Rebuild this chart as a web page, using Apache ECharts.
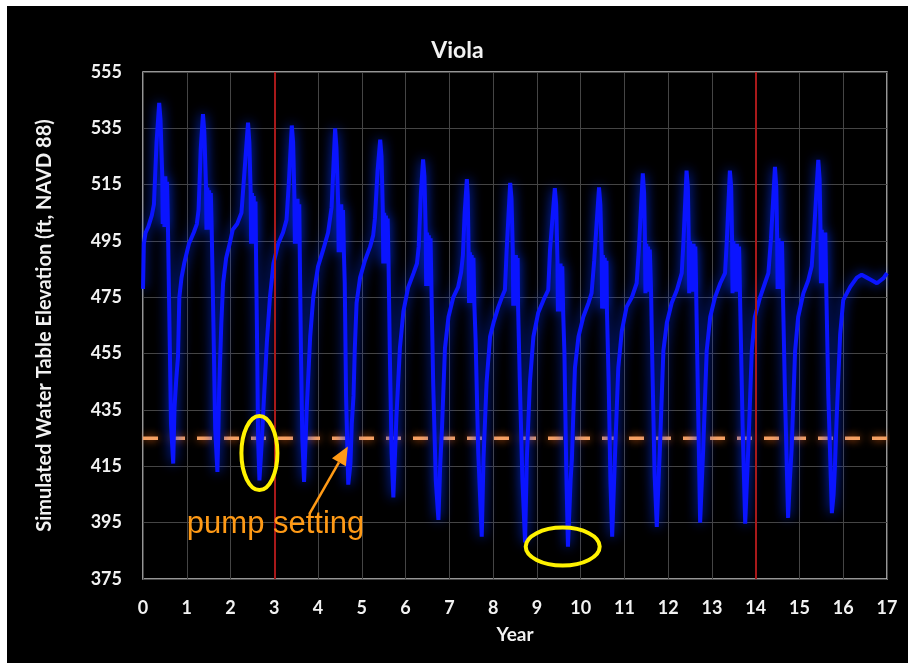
<!DOCTYPE html>
<html>
<head>
<meta charset="utf-8">
<script src="https://cdn.jsdelivr.net/npm/echarts@6/dist/echarts.min.js"></script>
<style>
html,body{margin:0;padding:0;background:#ffffff;width:908px;height:663px;overflow:hidden;}
#chart{position:absolute;left:7px;top:6px;width:901px;height:657px;background:#000;}
</style>
</head>
<body>
<div id="chart"></div>
<script>
// ---- Data ----
const chartTitle = 'Viola';
const xAxisTitle = 'Year';
const yAxisTitle = 'Simulated Water Table Elevation (ft, NAVD 88)';
const yearTicks = [0,1,2,3,4,5,6,7,8,9,10,11,12,13,14,15,16,17];
const elevationTicks = [375,395,415,435,455,475,495,515,535,555];
const pumpSetting = 425;
const redLineYears = [3, 14];
const annotationText = 'pump setting';

// simulated water table: time (years) and elevation (ft)
const years = [
 0.00,0.02,0.06,0.12,0.20,0.25,0.31,0.37,0.40,0.44,0.45,0.47,0.49,0.51,0.53,0.55,0.57,0.60,0.64,0.69,
 0.72,0.76,0.80,0.83,0.88,0.94,1.05,1.16,1.23,1.27,
 1.32,1.37,1.40,1.44,1.45,1.47,1.49,1.51,1.53,1.55,1.57,1.61,1.65,1.70,
 1.72,1.74,1.79,1.83,1.90,1.98,2.05,2.15,2.25,
 2.33,2.40,2.43,2.46,2.47,2.49,2.51,2.53,2.55,2.57,2.58,2.61,2.63,2.66,
 2.70,2.75,2.83,2.90,2.98,3.09,3.20,3.28,
 3.33,3.40,3.43,3.46,3.47,3.49,3.51,3.53,3.55,3.57,3.58,3.61,3.64,3.68,
 3.71,3.74,3.82,3.89,4.00,4.12,4.23,4.31,
 4.39,4.42,4.46,4.47,4.49,4.51,4.53,4.55,4.57,4.59,4.61,4.64,4.69,
 4.74,4.77,4.81,4.84,4.88,4.96,5.07,5.19,5.26,5.30,
 5.36,5.42,5.45,5.48,5.49,5.51,5.53,5.55,5.57,5.59,5.61,5.64,5.68,5.72,
 5.76,5.79,5.87,5.95,6.06,6.18,6.26,6.30,
 6.35,6.40,6.43,6.46,6.47,6.49,6.51,6.53,6.55,6.57,6.59,6.63,6.69,6.75,
 6.79,6.83,6.90,6.98,7.09,7.20,7.27,7.31,
 7.35,7.40,7.42,7.44,7.45,7.47,7.49,7.51,7.53,7.55,7.57,7.60,7.66,7.74,
 7.78,7.85,7.93,8.01,8.12,8.20,8.27,8.31,
 8.39,8.42,8.45,8.46,8.48,8.50,8.52,8.54,8.56,8.57,8.61,8.67,8.73,
 8.77,8.84,8.92,9.03,9.15,9.26,9.30,
 9.41,9.44,9.47,9.48,9.50,9.52,9.54,9.56,9.58,9.60,9.63,9.67,9.71,
 9.77,9.80,9.83,9.87,9.95,10.06,10.18,10.25,10.31,
 10.42,10.45,10.48,10.49,10.51,10.53,10.55,10.57,10.59,10.60,10.64,10.68,10.72,
 10.76,10.79,10.86,10.94,11.05,11.17,11.28,11.33,
 11.42,11.45,11.47,11.48,11.50,11.52,11.54,11.56,11.58,11.61,11.64,11.69,11.74,
 11.78,11.81,11.89,11.97,12.08,12.20,12.31,12.35,
 12.42,12.45,12.47,12.48,12.50,12.52,12.54,12.56,12.58,12.60,12.62,12.64,12.68,12.73,
 12.77,12.80,12.88,12.96,13.07,13.19,13.30,13.34,
 13.41,13.44,13.46,13.47,13.49,13.51,13.53,13.55,13.57,13.59,13.62,13.64,13.70,13.76,
 13.80,13.83,13.91,13.98,14.10,14.21,14.29,14.35,
 14.44,14.47,14.49,14.50,14.52,14.54,14.56,14.58,14.60,14.62,14.67,14.74,
 14.78,14.82,14.90,14.97,15.09,15.20,15.28,15.34,
 15.43,15.46,15.48,15.49,15.51,15.53,15.55,15.57,15.59,15.61,15.66,15.74,
 15.78,15.81,15.85,15.93,16.00,16.16,16.31,16.42,16.54,16.66,16.77,16.92,17.00
];
const elevation = [
 478,494,498,500,504,508,530,544,538,518,501,517,500,518,502,516,500,470,430,416,
 436,446,454,475,482,487,494,498,501,506,
 528,540,534,514,499,514,499,513,500,512,499,465,428,413,
 426,442,466,480,489,494,499,501,505,
 522,537,530,512,494,512,495,511,494,509,494,455,425,410,
 420,435,459,475,487,494,498,502.5,
 515,536,530,510,494,510,495,510,494,508,494,455,425,409.5,
 422,435,461,475,486,492,498,507,
 535,528,508,491,508,491,508,492,506,491,480,440,408.5,
 416,430,440,457,473,482,488,493,497,503,
 520,531,525,505,487,505,488,504,487,503,488,455,420,404,
 420,432.5,457,470,478.6,483.5,487,493,
 512,524,518,498,479,498,479,497,480,496,479,445,410,396,
 415,428,457,468,475,478.6,484,490,
 505,517,511,491,473,491,473,490,474,489,473,460,420,390,
 417.6,444.6,461,466,471.6,475,477.6,491.8,
 515.6,510,491,472,490,472,490,473,489,472,445,410,388,
 417.6,444.6,461,469.5,474,477.6,491.8,
 513.8,508,488,470,487,470,487,471,486,470,455,415,386.5,
 410,417.6,432.5,450,461,468,473,476.5,488,
 514,508,490,471,490,471,489,472,488,471,445,410,390,
 408,421,450,463,471.6,475,480,492,
 519,512,494,476.5,494,477,493,477,492,476.5,450,412,393.5,
 410,421,456,466,473,477.6,483.6,495,
 520,514,495,476.5,495,477,494,477,494,477,493,476.5,440,395,
 410,421,456,468,475,480,483.6,495,
 520,514,495,476.5,495,477,494,477,494,477,493,476.5,430,394.6,
 410,421,456,468,475,480,483.6,496,
 521.3,514,496,478,496,478,495,478,495,478,440,396.7,
 410,421,456,468,476.5,481,486,500,
 523.8,517,499,480,499,480,498,481,498,480,440,398.4,
 405,415,432.5,462,474,478.7,482,483,482,481,480,481.8,483.6
];

// annotation anchors (data coordinates: year, elevation)
const ellipseCenters = [[2.66, 419.7], [9.59, 386.5]];
const arrowTip = [4.68, 422];
const arrowTail = [3.80, 398.0];
const textAnchor = [3.03, 394.2];

const waterSeries = years.map((t, i) => [t, elevation[i]]);
const xMin = yearTicks[0], xMax = yearTicks[yearTicks.length - 1];
const yMin = elevationTicks[0], yMax = elevationTicks[elevationTicks.length - 1];

const chart = echarts.init(document.getElementById('chart'), null, {renderer: 'canvas'});
const FONT = 'Lato';

chart.setOption({
  animation: false,
  backgroundColor: '#000000',
  title: {
    text: chartTitle, left: 'center', top: 28,
    textStyle: {color: '#f2f2f2', fontFamily: FONT, fontWeight: 'bold', fontSize: 23}
  },
  grid: {
    left: 136, top: 66, right: 21, bottom: 84,
    show: true, borderColor: '#c8c8c8', borderWidth: 1.5, backgroundColor: 'transparent'
  },
  xAxis: {
    type: 'value', min: xMin, max: xMax, interval: 1,
    name: xAxisTitle, nameLocation: 'middle', nameGap: 46,
    nameTextStyle: {color: '#f2f2f2', fontFamily: FONT, fontWeight: 'bold', fontSize: 19},
    axisLine: {show: false}, axisTick: {show: false},
    axisLabel: {color: '#f2f2f2', fontFamily: FONT, fontWeight: 'bold', fontSize: 18, margin: 20},
    splitLine: {show: true, lineStyle: {color: '#454545', width: 1}}
  },
  yAxis: {
    type: 'value', min: yMin, max: yMax, interval: 20,
    name: yAxisTitle, nameLocation: 'middle', nameGap: 88,
    nameTextStyle: {color: '#f2f2f2', fontFamily: FONT, fontWeight: 'bold', fontSize: 20},
    axisLine: {show: false}, axisTick: {show: false},
    axisLabel: {color: '#f2f2f2', fontFamily: FONT, fontWeight: 'bold', fontSize: 18, margin: 21},
    splitLine: {show: true, lineStyle: {color: '#454545', width: 1}}
  },
  series: [
    {
      name: 'red markers', type: 'line', data: [], silent: true,
      markLine: {
        symbol: ['none', 'none'], silent: true, label: {show: false},
        lineStyle: {color: '#a8191a', width: 2, type: 'solid'},
        data: redLineYears.map(x => ({xAxis: x}))
      }
    },
    {
      name: 'pump setting', type: 'line', silent: true, symbol: 'none',
      data: [[xMin, pumpSetting], [xMax, pumpSetting]],
      lineStyle: {color: '#f5a062', width: 3.5, type: [15, 12],
        shadowBlur: 8, shadowColor: 'rgba(255,110,20,0.85)'},
      z: 3
    },
    {
      name: 'Viola', type: 'line', symbol: 'none', smooth: false,
      data: waterSeries,
      lineStyle: {color: '#0a14ff', width: 4, shadowBlur: 12, shadowColor: 'rgba(0,50,255,0.9)'},
      z: 4
    }
  ]
});

function px(p) { return chart.convertToPixel({gridIndex: 0}, p); }
const tip = px(arrowTip), tail = px(arrowTail);
const ang = Math.atan2(tip[1] - tail[1], tip[0] - tail[0]);
const hl = 18, hw = 8;
const base = [tip[0] - hl * Math.cos(ang), tip[1] - hl * Math.sin(ang)];
const head = [
  tip,
  [base[0] + hw * Math.sin(ang), base[1] - hw * Math.cos(ang)],
  [base[0] - hw * Math.sin(ang), base[1] + hw * Math.cos(ang)]
];
const txt = px(textAnchor);
const e1 = px(ellipseCenters[0]), e2 = px(ellipseCenters[1]);

chart.setOption({
  graphic: [
    {type: 'ellipse', shape: {cx: e1[0], cy: e1[1], rx: 18, ry: 37},
     style: {fill: 'none', stroke: '#fff200', lineWidth: 4}, z: 100},
    {type: 'ellipse', shape: {cx: e2[0], cy: e2[1], rx: 37, ry: 19},
     style: {fill: 'none', stroke: '#fff200', lineWidth: 4}, z: 100},
    {type: 'line', shape: {x1: tail[0], y1: tail[1], x2: base[0], y2: base[1]},
     style: {stroke: '#ff9a16', lineWidth: 2.5}, z: 100},
    {type: 'polygon', shape: {points: head}, style: {fill: '#ff9a16'}, z: 100},
    {type: 'text', x: txt[0], y: txt[1],
     style: {text: annotationText, fill: '#ff9a16', font: '31px "Liberation Sans", Arial, sans-serif',
             textAlign: 'center', textVerticalAlign: 'middle'}, z: 100}
  ]
});
</script>
</body>
</html>
